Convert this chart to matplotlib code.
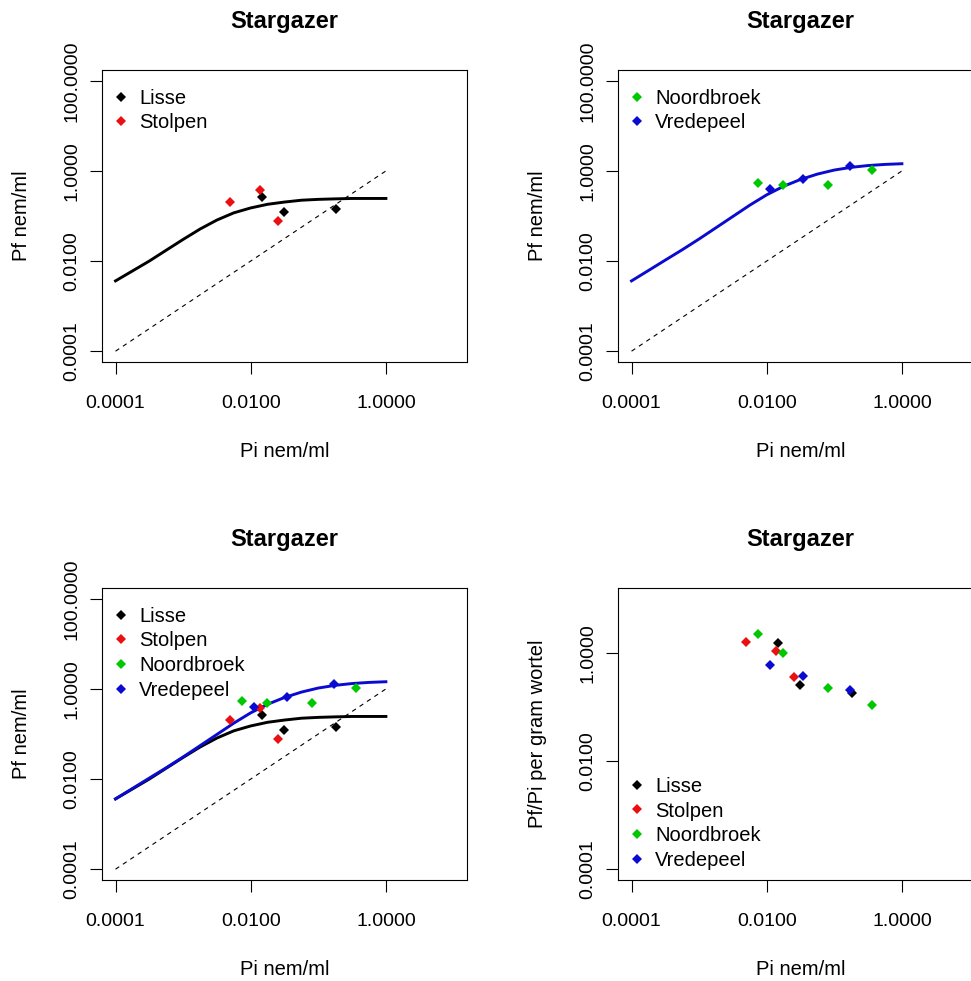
"""Stargazer: final vs initial nematode density for four locations (2x2 panels)."""
import matplotlib
matplotlib.use("Agg")
import matplotlib.pyplot as plt
from matplotlib.lines import Line2D

plt.rcParams["font.family"] = ["Liberation Sans", "DejaVu Sans"]

# ---- observations (nem/ml) ----
LISSE_PI = [0.0145, 0.031, 0.18]
LISSE_PF = [0.263, 0.123, 0.141]
LISSE_RATIO = [1.53, 0.25, 0.178]

STOLPEN_PI = [0.0050, 0.0135, 0.0251]
STOLPEN_PF = [0.20, 0.37, 0.078]
STOLPEN_RATIO = [1.58, 1.07, 0.355]

NOORD_PI = [0.0074, 0.0174, 0.081, 0.363]
NOORD_PF = [0.55, 0.48, 0.50, 1.07]
NOORD_RATIO = [2.24, 1.00, 0.224, 0.107]

VREDE_PI = [0.0112, 0.034, 0.17]
VREDE_PF = [0.40, 0.65, 1.32]
VREDE_RATIO = [0.60, 0.38, 0.209]

# ---- fitted curves ----
CURVE_PI = [0.0001, 0.000178, 0.000316, 0.000562, 0.001, 0.00178, 0.00316,
            0.00562, 0.01, 0.0178, 0.0316, 0.0562, 0.1, 0.178, 0.316, 0.562, 1.0]
FIT_BLACK = [0.00363, 0.00603, 0.0100, 0.0174, 0.0302, 0.0513, 0.0813, 0.1175,
             0.151, 0.182, 0.204, 0.224, 0.234, 0.240, 0.245, 0.245, 0.245]
FIT_BLUE = [0.00363, 0.00617, 0.0105, 0.0178, 0.0309, 0.055, 0.0977, 0.174,
            0.295, 0.457, 0.646, 0.851, 1.047, 1.202, 1.318, 1.396, 1.445]
ONE_TO_ONE = [0.0001, 1.0]

NAMES = ["Lisse", "Stolpen", "Noordbroek", "Vredepeel"]
COLORS = ["black", "#e81010", "#00c800", "#0a0ad0"]

XTICKS = [0.0001, 0.01, 1.0]
YTICKS_PF = [0.0001, 0.01, 1.0, 100.0]
YTICKS_RATIO = [0.0001, 0.01, 1.0]

W, H = 971, 981


def box(x0, y0, x1, y1):
    """pixel box (top-left origin) -> figure fraction rect"""
    return [x0 / W, 1 - y1 / H, (x1 - x0) / W, (y1 - y0) / H]


def style(ax, yticks, ylim, ylabel):
    ax.set_xscale("log")
    ax.set_yscale("log")
    ax.set_xlim(10 ** -4.2, 10 ** 1.2)
    ax.set_ylim(*ylim)
    ax.set_xticks(XTICKS)
    ax.set_xticklabels([f"{t:.4f}" for t in XTICKS])
    ax.set_yticks(yticks)
    ax.set_yticklabels([f"{t:.4f}" for t in yticks], rotation=90, va="center")
    ax.minorticks_off()
    ax.tick_params(length=8.6, width=0.8, labelsize=14, colors="black")
    ax.tick_params(axis="x", pad=15.5)
    ax.tick_params(axis="y", pad=7)
    for sp in ax.spines.values():
        sp.set_linewidth(0.8)
    ax.set_title("Stargazer", fontsize=17, fontweight="bold", pad=30)
    ax.set_xlabel("Pi nem/ml", fontsize=14.5)
    ax.xaxis.set_label_coords(0.5, -95 / 292)
    ax.xaxis.label.set_va("baseline")
    ax.set_ylabel(ylabel, fontsize=14.5)
    ax.yaxis.set_label_coords(-74.7 / 365, 0.5)
    ax.yaxis.label.set_va("baseline")


def legend(ax, idx, loc, anchor):
    handles = [Line2D([], [], ls="none", marker="D", ms=4.6, mew=0,
                      color=COLORS[i]) for i in idx]
    ax.legend(handles, [NAMES[i] for i in idx], loc=loc, bbox_to_anchor=anchor,
              frameon=False, fontsize=14.5, borderaxespad=0, borderpad=0,
              handlelength=0.865, handletextpad=0.48, labelspacing=0.28)


def pts(ax, x, y, col):
    ax.plot(x, y, ls="none", marker="D", ms=5.2, mew=0, color=col, zorder=3)


fig = plt.figure(figsize=(W / 100, H / 100), dpi=100)
ax_tl = fig.add_axes(box(102, 70, 467, 362))
ax_tr = fig.add_axes(box(618, 70, 983, 362))
ax_bl = fig.add_axes(box(102, 588, 467, 880))
ax_br = fig.add_axes(box(618, 588, 983, 880))

pf_lim = (10 ** -4.24, 10 ** 2.24)

# top left: Lisse + Stolpen
ax_tl.plot(CURVE_PI, FIT_BLACK, color="black", lw=2.1, zorder=2)
ax_tl.plot(ONE_TO_ONE, ONE_TO_ONE, color="black", lw=0.8, dashes=(4, 4))
pts(ax_tl, LISSE_PI, LISSE_PF, COLORS[0])
pts(ax_tl, STOLPEN_PI, STOLPEN_PF, COLORS[1])
style(ax_tl, YTICKS_PF, pf_lim, "Pf nem/ml")
legend(ax_tl, [0, 1], "upper left", (0.0274, 0.936))

# top right: Noordbroek + Vredepeel
ax_tr.plot(CURVE_PI, FIT_BLUE, color=COLORS[3], lw=2.1, zorder=2)
ax_tr.plot(ONE_TO_ONE, ONE_TO_ONE, color="black", lw=0.8, dashes=(4, 4))
pts(ax_tr, NOORD_PI, NOORD_PF, COLORS[2])
pts(ax_tr, VREDE_PI, VREDE_PF, COLORS[3])
style(ax_tr, YTICKS_PF, pf_lim, "Pf nem/ml")
legend(ax_tr, [2, 3], "upper left", (0.0274, 0.936))

# bottom left: all four
ax_bl.plot(CURVE_PI, FIT_BLACK, color="black", lw=2.1, zorder=2)
ax_bl.plot(CURVE_PI, FIT_BLUE, color=COLORS[3], lw=2.1, zorder=2)
ax_bl.plot(ONE_TO_ONE, ONE_TO_ONE, color="black", lw=0.8, dashes=(4, 4))
pts(ax_bl, LISSE_PI, LISSE_PF, COLORS[0])
pts(ax_bl, STOLPEN_PI, STOLPEN_PF, COLORS[1])
pts(ax_bl, NOORD_PI, NOORD_PF, COLORS[2])
pts(ax_bl, VREDE_PI, VREDE_PF, COLORS[3])
style(ax_bl, YTICKS_PF, pf_lim, "Pf nem/ml")
legend(ax_bl, [0, 1, 2, 3], "upper left", (0.0274, 0.936))

# bottom right: Pf/Pi
pts(ax_br, LISSE_PI, LISSE_RATIO, COLORS[0])
pts(ax_br, STOLPEN_PI, STOLPEN_RATIO, COLORS[1])
pts(ax_br, NOORD_PI, NOORD_RATIO, COLORS[2])
pts(ax_br, VREDE_PI, VREDE_RATIO, COLORS[3])
style(ax_br, YTICKS_RATIO, (10 ** -4.2, 10 ** 1.2), "Pf/Pi per gram wortel")
legend(ax_br, [0, 1, 2, 3], "lower left", (0.0274, 0.035))

fig.savefig("out.png", dpi=100)
